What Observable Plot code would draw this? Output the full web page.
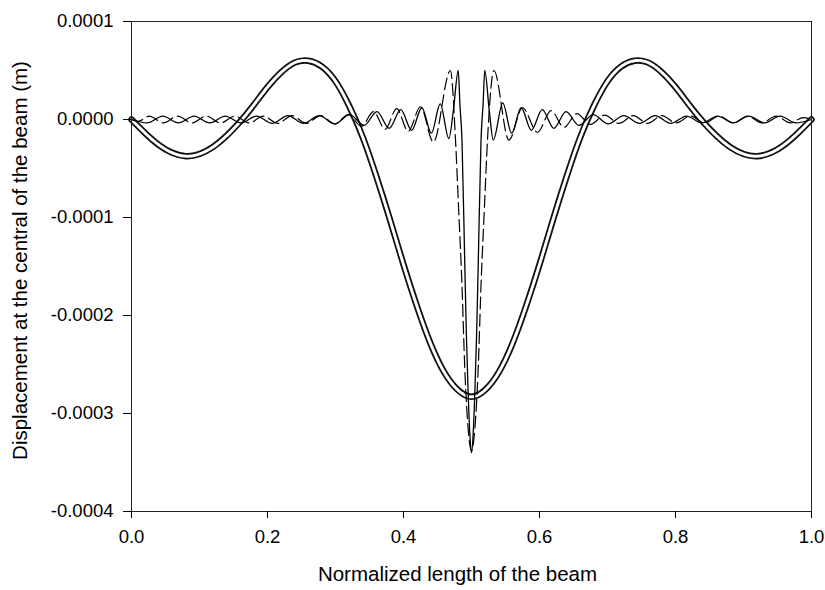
<!DOCTYPE html>
<html>
<head>
<meta charset="utf-8">
<script src="https://cdn.jsdelivr.net/npm/d3@7"></script>
<script src="https://cdn.jsdelivr.net/npm/@observablehq/plot@0.6"></script>
<style>
  html, body { margin: 0; padding: 0; background: #fff; }
</style>
</head>
<body>
<div id="chart"></div>
<script>
// Tick values
const xTicks = [0, 0.2, 0.4, 0.6, 0.8, 1.0];
const yTicks = [0.0001, 0, -0.0001, -0.0002, -0.0003, -0.0004];

// Series with circle markers (x, displacement in m)
const circleX = [0,0.02,0.04,0.06,0.08,0.10,0.12,0.14,0.16,0.18,0.20,0.22,0.24,0.26,0.28,0.30,0.32,0.34,0.36,0.38,0.40,0.42,0.44,0.46,0.48,0.50,
  0.52,0.54,0.56,0.58,0.60,0.62,0.64,0.66,0.68,0.70,0.72,0.74,0.76,0.78,0.80,0.82,0.84,0.86,0.88,0.90,0.92,0.94,0.96,0.98,1.00];
const circleY = [0,-13.8e-6,-25.8e-6,-34.0e-6,-37.4e-6,-35.2e-6,-28.0e-6,-16.5e-6,-2.0e-6,15.0e-6,33.0e-6,48.0e-6,58.0e-6,60.0e-6,54.0e-6,39.0e-6,14.0e-6,-18.0e-6,-58.0e-6,-102.0e-6,-148.0e-6,-191.0e-6,-229.0e-6,-258.0e-6,-276.0e-6,-283.0e-6,
  -276.0e-6,-258.0e-6,-229.0e-6,-191.0e-6,-148.0e-6,-102.0e-6,-58.0e-6,-18.0e-6,14.0e-6,39.0e-6,54.0e-6,60.0e-6,58.0e-6,48.0e-6,33.0e-6,15.0e-6,-2.0e-6,-16.5e-6,-28.0e-6,-35.2e-6,-37.4e-6,-34.0e-6,-25.8e-6,-13.8e-6,0];

// Solid-line series
const solidX = [0,0.023,0.046,0.069,0.092,0.115,0.138,0.161,0.184,0.207,0.230,0.253,0.276,0.299,0.321,0.342,0.361,0.379,0.396,0.412,0.427,0.441,0.454,0.4667,0.4735,0.4805,0.483,0.486,0.490,0.4925,0.495,0.4975,0.500,
  0.5025,0.505,0.5075,0.510,0.514,0.517,0.5195,0.526,0.532,0.546,0.559,0.573,0.588,0.604,0.621,0.639,0.658,0.679,0.701,0.724,0.747,0.770,0.793,0.816,0.839,0.862,0.885,0.908,0.931,0.954,0.977,1.0];
const solidY = [0,-3.5e-6,3.5e-6,-3.5e-6,3.5e-6,-3.5e-6,3.5e-6,-3.5e-6,3.5e-6,-4e-6,4e-6,-4e-6,4e-6,-4.5e-6,5e-6,-6e-6,8e-6,-9e-6,10e-6,-11e-6,12e-6,-14e-6,16e-6,-19.5e-6,10e-6,50e-6,15e-6,-21e-6,-144e-6,-220e-6,-277e-6,-320e-6,-340e-6,
  -320e-6,-277e-6,-220e-6,-144e-6,-21e-6,15e-6,50e-6,10e-6,-21e-6,17e-6,-14e-6,12e-6,-11e-6,10e-6,-9e-6,8e-6,-6e-6,5e-6,-4.5e-6,4e-6,-4e-6,4e-6,-4e-6,3.5e-6,-3.5e-6,3.5e-6,-3.5e-6,3.5e-6,-3.5e-6,3.5e-6,-3.5e-6,0];

// Dashed-line series
const dashX = [0,0.010,0.026,0.047,0.068,0.089,0.110,0.131,0.152,0.173,0.194,0.215,0.236,0.257,0.278,0.299,0.319,0.338,0.356,0.373,0.390,0.407,0.425,0.444,0.469,0.4765,0.481,0.4855,0.4905,0.495,0.500,
  0.505,0.5095,0.5145,0.519,0.5235,0.533,0.555,0.575,0.597,0.617,0.636,0.655,0.675,0.696,0.717,0.738,0.759,0.780,0.801,0.822,0.843,0.864,0.885,0.906,0.927,0.948,0.969,0.988,1.0];
const dashY = [0,-2e-6,3.5e-6,-3.5e-6,3.5e-6,-3.5e-6,3.5e-6,-3.5e-6,3.5e-6,-3.5e-6,3.5e-6,-4e-6,4e-6,-4e-6,4e-6,-4.5e-6,5e-6,-7e-6,8e-6,-10e-6,11e-6,-12e-6,13e-6,-23e-6,50e-6,-21e-6,-90e-6,-160e-6,-260e-6,-315e-6,-338e-6,
  -315e-6,-260e-6,-160e-6,-90e-6,-21e-6,50e-6,-21e-6,12e-6,-13e-6,9e-6,-8e-6,6e-6,-5e-6,4.5e-6,-4e-6,4e-6,-4e-6,4e-6,-3.5e-6,3.5e-6,-3.5e-6,3.5e-6,-3.5e-6,3.5e-6,-3.5e-6,3.5e-6,-3.5e-6,2e-6,0];

const xLabel = "Normalized length of the beam";
const yLabel = "Displacement at the central of the beam (m)";

const toRows = (xs, ys) => xs.map((x, i) => ({x, y: ys[i]}));
const circleData = toRows(circleX, circleY);
const solidData = toRows(solidX, solidY);
const dashData = toRows(dashX, dashY);

const font = "Arial, 'Liberation Sans', sans-serif";

const chart = Plot.plot({
  width: 825,
  height: 590,
  marginLeft: 131,
  marginRight: 14,
  marginTop: 21,
  marginBottom: 79,
  style: {fontFamily: font, fontSize: "18.5px", background: "#fff", color: "#000"},
  x: {domain: [0, 1]},
  y: {domain: [-0.0004, 0.0001]},
  marks: [
    Plot.line(circleData, {x: "x", y: "y", curve: "natural", stroke: "#111", strokeWidth: 6.5}),
    Plot.line(circleData, {x: "x", y: "y", curve: "natural", stroke: "#fff", strokeWidth: 3, strokeDasharray: "1.3,1.5"}),
    Plot.line(dashData, {x: "x", y: "y", curve: "monotone-x", stroke: "#000", strokeWidth: 1.2, strokeDasharray: "12,5"}),
    Plot.line(solidData, {x: "x", y: "y", curve: "monotone-x", stroke: "#000", strokeWidth: 1.3}),
    Plot.frame({stroke: "#222", strokeWidth: 1}),
    Plot.axisY({ticks: yTicks, tickFormat: d => d.toFixed(4), tickSize: 8, tickPadding: 10, label: null, fontSize: 18.5}),
    Plot.axisX({ticks: xTicks, tickFormat: d => d.toFixed(1), tickSize: 7, tickPadding: 11, label: null, fontSize: 18.5}),
    Plot.text([xLabel], {frameAnchor: "bottom", dx: -14, dy: 69, fontSize: 20.5, fill: "#000", textAnchor: "middle"}),
    Plot.text([yLabel], {frameAnchor: "left", dx: -111, dy: -6, rotate: -90, fontSize: 20.5, fill: "#000", textAnchor: "middle"})
  ]
});
document.getElementById("chart").appendChild(chart);
</script>
</body>
</html>
